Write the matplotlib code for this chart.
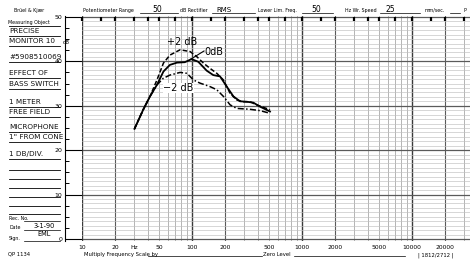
import numpy as np
import matplotlib
matplotlib.use("Agg")
import matplotlib.pyplot as plt
from matplotlib.lines import Line2D
from matplotlib.ticker import FixedLocator, NullFormatter

# ---- data ----
freq_0db = [30, 36, 41.5, 48, 55, 63, 73, 86, 99, 114, 136, 156, 180, 207, 238, 273, 314, 361, 415, 512]
level_0db = [24.8, 29.1, 32.1, 34.7, 37.7, 39.2, 39.7, 39.8, 40.5, 39.9, 37.9, 36.9, 36.6, 34.3, 32.1, 31.0, 30.9, 30.7, 29.8, 28.7]

freq_p2db = [30, 36, 41.5, 48, 55, 63, 78, 96, 110, 127, 146, 168, 193, 222, 255, 293, 337, 387, 512]
level_p2db = [24.8, 29.1, 32.1, 35.8, 39.6, 41.4, 42.6, 42.2, 41.1, 39.6, 38.4, 37.3, 35.8, 32.8, 31.3, 30.9, 30.9, 30.2, 29.1]

freq_m2db = [30, 36, 41.5, 48, 55, 63, 78, 90, 103, 118, 146, 168, 193, 222, 255, 337, 415, 512]
level_m2db = [24.8, 29.1, 32.1, 34.7, 36.2, 36.9, 37.5, 37.3, 35.8, 35.1, 34.3, 33.6, 32.1, 30.2, 29.4, 29.2, 28.9, 28.3]

x_tick_vals = [10, 20, 30, 50, 100, 200, 500, 1000, 2000, 5000, 10000, 20000]
x_tick_labels = ["10", "20", "Hz", "50", "100", "200", "500", "1000", "2000", "5000", "10000", "20000"]
y_tick_vals = [0, 10, 20, 30, 40, 50]
y_tick_labels = ["0", "10", "20", "30", "40", "50"]

notes = [("PRECISE", 33), ("MONITOR 10", 43), ("#5908510069", 59), ("EFFECT OF", 75),
         ("BASS SWITCH", 86), ("1 METER", 104), ("FREE FIELD", 114), ("MICROPHONE", 129),
         ("1\" FROM CONE", 139), ("1 DB/DIV.", 156)]

W, H = 476, 263
fig = plt.figure(figsize=(W / 100, H / 100), dpi=100)
fig.patch.set_facecolor("white")

def P(x, y):
    return (x / W, 1 - y / H)

def hline(x0, x1, y, lw=0.5):
    fig.add_artist(Line2D([x0 / W, x1 / W], [1 - y / H] * 2, color="black", lw=lw,
                          transform=fig.transFigure))

ax_left, ax_right, ax_top, ax_bot = 82, 470, 16, 241
ax = fig.add_axes([ax_left / W, 1 - ax_bot / H, (ax_right - ax_left) / W, (ax_bot - ax_top) / H])
ax.set_xscale("log")
xmax = 10 ** (1 + 388 / 110)
ax.set_xlim(10, xmax)
ax.set_ylim(-0.45, 50.2)

# grid
for dec in [10, 100, 1000, 10000]:
    for m in range(1, 10):
        f = dec * m
        if f > xmax:
            break
        if m == 1:
            ax.axvline(f, color="#3a3a3a", lw=1.0, zorder=1)
        elif m == 2:
            ax.axvline(f, color="#5a5a5a", lw=0.8, zorder=1)
        else:
            ax.axvline(f, color="#a0a0a0", lw=0.55, zorder=1)
for d in range(0, 51):
    if d % 10 == 0:
        ax.axhline(d, color="#5a5a5a", lw=0.9, zorder=1)
    else:
        ax.axhline(d, color="#c0c0c0", lw=0.45, zorder=1)

# curves
ax.plot(freq_0db, level_0db, color="black", lw=1.3, zorder=3)
ax.plot(freq_p2db, level_p2db, color="black", lw=1.1, ls=(0, (3, 1.5)), zorder=3)
ax.plot(freq_m2db, level_m2db, color="black", lw=1.1, ls=(0, (4, 1.5, 1, 1.5)), zorder=3)

# axes styling
for s in ["top", "right", "bottom"]:
    ax.spines[s].set_visible(False)
ax.spines["left"].set_position(("outward", 12))
ax.spines["left"].set_linewidth(0.8)
ax.set_yticks(y_tick_vals)
ax.set_yticklabels(y_tick_labels, fontsize=4.5)
ax.yaxis.set_minor_locator(FixedLocator(np.arange(0, 50.1, 2.5)))
ax.tick_params(axis="y", which="major", length=12, width=0.8, direction="in", pad=2)
ax.tick_params(axis="y", which="minor", length=3, width=0.7, direction="in")

ax.xaxis.set_major_locator(FixedLocator(x_tick_vals))
ax.set_xticklabels(x_tick_labels, fontsize=4.3)
ax.xaxis.set_minor_locator(FixedLocator([]))
ax.xaxis.set_minor_formatter(NullFormatter())
ax.tick_params(axis="x", which="major", length=0, pad=3)

# top tick marks
top_f = [f for f in [10, 15, 20, 30, 40, 50, 70, 100, 150, 200, 300, 400, 500, 700, 1000, 1500,
                     2000, 3000, 4000, 5000, 7000, 10000, 15000, 20000, 30000] if f < xmax]
ax.plot(top_f, [49.6] * len(top_f), ls="none", marker="|", ms=3, mew=1.6, color="black",
        clip_on=False, zorder=4)

# curve labels
fig.text(*P(167, 45), "+2 dB", fontsize=7, color="black", ha="left", va="baseline")
fig.text(*P(204, 55), "0dB", fontsize=7, color="black", ha="left", va="baseline")
fig.text(*P(163, 91), "\u22122 dB", fontsize=7, color="black", ha="left", va="baseline",
         bbox=dict(facecolor="white", edgecolor="none", pad=0.3))
fig.add_artist(Line2D([204 / W, 191 / W], [1 - 51 / H, 1 - 59 / H], color="black", lw=0.8,
                      transform=fig.transFigure))

# axis side label
fig.text(*P(66, 42), "dB", fontsize=3.8, ha="center", va="center")

# header
hdr = 3.4
fig.text(*P(14, 12), "Brüel & Kjær", fontsize=hdr, va="baseline")
fig.text(*P(83, 12), "Potentiometer Range", fontsize=hdr, va="baseline")
fig.text(*P(152, 12), "50", fontsize=5.5, va="baseline")
fig.text(*P(180, 12), "dB Rectifier", fontsize=hdr, va="baseline")
fig.text(*P(216, 12), "RMS", fontsize=5, va="baseline")
fig.text(*P(258, 12), "Lower Lim. Freq.", fontsize=hdr, va="baseline")
fig.text(*P(311, 12), "50", fontsize=5.5, va="baseline")
fig.text(*P(345, 12), "Hz Wr. Speed", fontsize=hdr, va="baseline")
fig.text(*P(386, 12), "25", fontsize=5.5, va="baseline")
fig.text(*P(425, 12), "mm/sec.", fontsize=hdr, va="baseline")
fig.text(*P(463, 12), "P", fontsize=hdr, va="baseline")
for x0, x1 in [(140, 178), (212, 255), (302, 333), (380, 420), (450, 460)]:
    hline(x0, x1, 13)

# left panel notes
fig.text(*P(8, 24), "Measuring Object", fontsize=3.4, va="baseline")
for txt, y in notes:
    fig.text(*P(9, y), txt, fontsize=5.2, va="baseline", color="#111111")
    hline(9, 60, y + 3, 0.6)
for y in [26, 170, 179, 188, 197, 206, 214]:
    hline(9, 60, y, 0.6)
fig.text(*P(9, 220), "Rec. No.", fontsize=3.4, va="baseline")
fig.text(*P(9, 229), "Date", fontsize=3.4, va="baseline")
fig.text(*P(34, 228), "3-1-90", fontsize=4.8, va="baseline")
fig.text(*P(37, 236), "EML", fontsize=4.8, va="baseline")
fig.text(*P(9, 240), "Sign.", fontsize=3.4, va="baseline")
for y in [221, 230, 241]:
    hline(24, 60, y)
fig.text(*P(8, 256), "QP 1134", fontsize=3.8, va="baseline")

# bottom line
fig.text(*P(84, 256), "Multiply Frequency Scale by", fontsize=3.8, va="baseline")
hline(148, 262, 256)
fig.text(*P(263, 256), "Zero Level", fontsize=3.8, va="baseline")
hline(294, 405, 256)
fig.text(*P(418, 256), "| 1812/2712 |", fontsize=3.8, va="baseline")

fig.savefig("out.png", dpi=100, facecolor="white")
